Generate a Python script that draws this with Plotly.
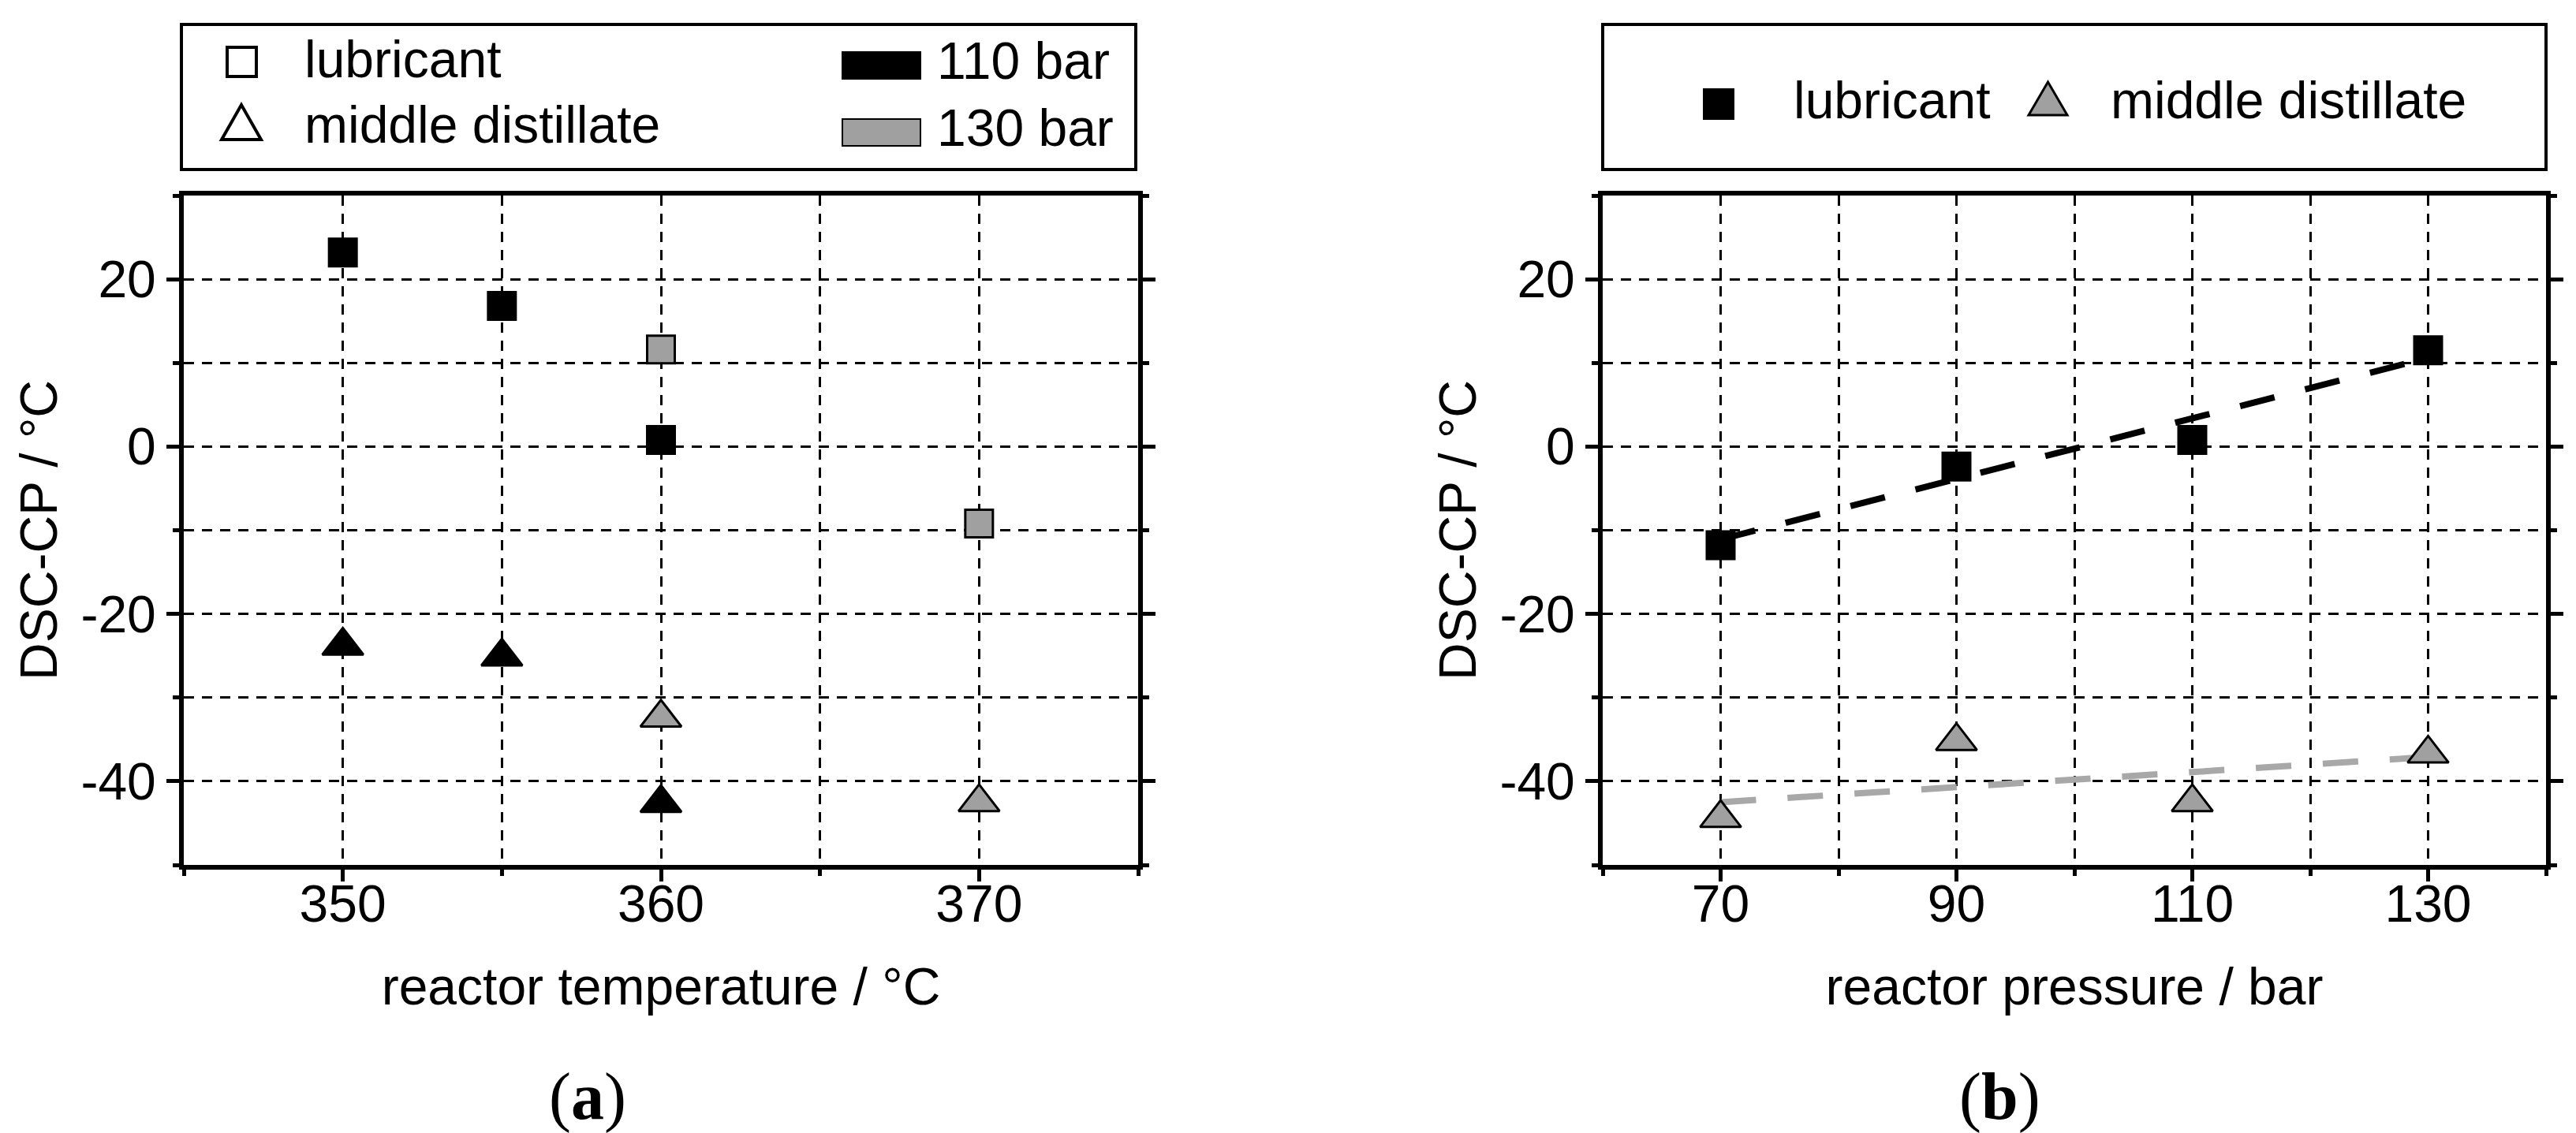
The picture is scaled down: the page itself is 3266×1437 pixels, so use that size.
import plotly.graph_objects as go

# panel (a): DSC-CP vs reactor temperature
temp_lub_110 = [350, 355, 360]
dsc_lub_110 = [23.2, 16.8, 0.8]
temp_lub_130 = [360, 370]
dsc_lub_130 = [11.6, -9.2]
temp_md_110 = [350, 355, 360]
dsc_md_110 = [-23.8, -25.1, -42.6]
temp_md_130 = [360, 370]
dsc_md_130 = [-32.4, -42.5]

# panel (b): DSC-CP vs reactor pressure
pressure = [70, 90, 110, 130]
dsc_lub_p = [-11.8, -2.4, 0.8, 11.5]
dsc_md_p = [-44.4, -35.2, -42.5, -36.7]
trend_p = [70, 130]
trend_lub = [-11.1, 10.6]
trend_md = [-42.5, -37.1]

y_ticks = [-40, -20, 0, 20]
y_ticktext = ["-40", "-20", "0", "20"]

W, H = 3266, 1437
M = dict(l=225, r=46, t=240, b=348)
FONT = "Liberation Sans, Arial, sans-serif"
GRAY = "#a0a0a0"
FS = 66


def px(x):
    return (x - M["l"]) / (W - M["l"] - M["r"])


def py(y):
    return (H - M["b"] - y) / (H - M["t"] - M["b"])


fig = go.Figure()

sq = dict(symbol="square", size=35, line=dict(color="black", width=3))
tri = dict(symbol="triangle-up", size=45, line=dict(color="black", width=3))

fig.add_trace(go.Scatter(x=temp_lub_110, y=dsc_lub_110, mode="markers",
                         marker=dict(color="black", **sq), name="lubricant 110 bar"))
fig.add_trace(go.Scatter(x=temp_lub_130, y=dsc_lub_130, mode="markers",
                         marker=dict(color=GRAY, **sq), name="lubricant 130 bar"))
fig.add_trace(go.Scatter(x=temp_md_110, y=dsc_md_110, mode="markers",
                         marker=dict(color="black", **tri), name="middle distillate 110 bar"))
fig.add_trace(go.Scatter(x=temp_md_130, y=dsc_md_130, mode="markers",
                         marker=dict(color=GRAY, **tri), name="middle distillate 130 bar"))

fig.add_trace(go.Scatter(x=trend_p, y=trend_lub, mode="lines", xaxis="x2", yaxis="y2",
                         line=dict(color="black", width=8, dash="45px,40px")))
fig.add_trace(go.Scatter(x=trend_p, y=trend_md, mode="lines", xaxis="x2", yaxis="y2",
                         line=dict(color="#a8a8a8", width=8, dash="45px,40px")))
fig.add_trace(go.Scatter(x=pressure, y=dsc_lub_p, mode="markers", xaxis="x2", yaxis="y2",
                         marker=dict(color="black", **sq), name="lubricant"))
fig.add_trace(go.Scatter(x=pressure, y=dsc_md_p, mode="markers", xaxis="x2", yaxis="y2",
                         marker=dict(color=GRAY, **tri), name="middle distillate"))

grid = dict(showgrid=True, gridcolor="black", gridwidth=3, griddash="13px,10px")


def xaxis(rng, t0, dt, domain, title, anchor):
    return dict(domain=domain, range=rng, anchor=anchor, tick0=t0, dtick=dt,
                ticks="outside", ticklen=15, tickwidth=5, tickcolor="black",
                ticklabelstandoff=-28,
                showline=True, linewidth=6, linecolor="black", mirror=True,
                zeroline=False, tickfont=dict(family=FONT, size=FS, color="black"),
                minor=dict(tick0=t0, dtick=dt / 2, ticks="outside", ticklen=8,
                           tickwidth=5, tickcolor="black", **grid),
                title=dict(text=title, font=dict(family=FONT, size=FS, color="black"),
                           standoff=48),
                **grid)


def yaxis(anchor):
    return dict(domain=[0, 1], range=[-50, 30], anchor=anchor,
                tickmode="array", tickvals=y_ticks, ticktext=y_ticktext,
                ticks="outside", ticklen=16, tickwidth=5, tickcolor="black",
                showline=True, linewidth=6, linecolor="black", mirror="ticks",
                zeroline=False, tickfont=dict(family=FONT, size=FS, color="black"),
                minor=dict(tickmode="linear", tick0=0, dtick=10, ticks="outside",
                           ticklen=8, tickwidth=5, tickcolor="black", **grid),
                title=dict(text="DSC-CP / °C", font=dict(family=FONT, size=FS, color="black"),
                           standoff=10),
                **grid)


shapes = []
annotations = []


def rect(x0, y0, x1, y1, fill="white", lw=4):
    shapes.append(dict(type="rect", xref="paper", yref="paper",
                       x0=px(x0), x1=px(x1), y0=py(y1), y1=py(y0),
                       fillcolor=fill, line=dict(color="black", width=lw)))


def triangle(x0, x1, ytop, ybot, fill="white", lw=4):
    xm = (x0 + x1) / 2
    path = (f"M{px(x0)},{py(ybot)} L{px(x1)},{py(ybot)} "
            f"L{px(xm)},{py(ytop)} Z")
    shapes.append(dict(type="path", xref="paper", yref="paper", path=path,
                       fillcolor=fill, line=dict(color="black", width=lw)))


def label(x, y, text):
    annotations.append(dict(x=px(x), y=py(y), xref="paper", yref="paper", text=text,
                            xanchor="left", yanchor="middle", showarrow=False,
                            font=dict(family=FONT, size=FS, color="black")))


# legend (a)
rect(222, 23, 1432, 207)
rect(280, 52, 317, 89)
triangle(273, 323, 125, 169)
label(376, 67, "lubricant")
label(376, 150, "middle distillate")
rect(1060, 58, 1159, 92, fill="black", lw=2)
rect(1060, 143, 1159, 177, fill=GRAY, lw=2)
label(1178, 69, "110 bar")
label(1178, 154, "130 bar")

# legend (b)
rect(2024, 23, 3220, 207)
rect(2152, 105, 2190, 143, fill="black", lw=2)
triangle(2564, 2613, 96, 138, fill=GRAY, lw=3)
label(2264, 119, "lubricant")
label(2666, 119, "middle distillate")

for x, t in [(737, "(<b>a</b>)"), (2527, "(<b>b</b>)")]:
    annotations.append(dict(x=px(x), y=py(1383), xref="paper", yref="paper", text=t,
                            xanchor="center", yanchor="middle", showarrow=False,
                            font=dict(family="Liberation Serif, Times New Roman, serif",
                                      size=84, color="black")))

fig.update_layout(
    width=W, height=H, margin=M, showlegend=False,
    paper_bgcolor="white", plot_bgcolor="white",
    xaxis=xaxis([345, 375], 350, 10, [0, px(1435)], "reactor temperature / °C", "y"),
    yaxis=yaxis("x"),
    xaxis2=xaxis([60, 140], 70, 20, [px(2024), 1], "reactor pressure / bar", "y2"),
    yaxis2=yaxis("x2"),
    shapes=shapes, annotations=annotations,
)

fig.write_html("out.html")
